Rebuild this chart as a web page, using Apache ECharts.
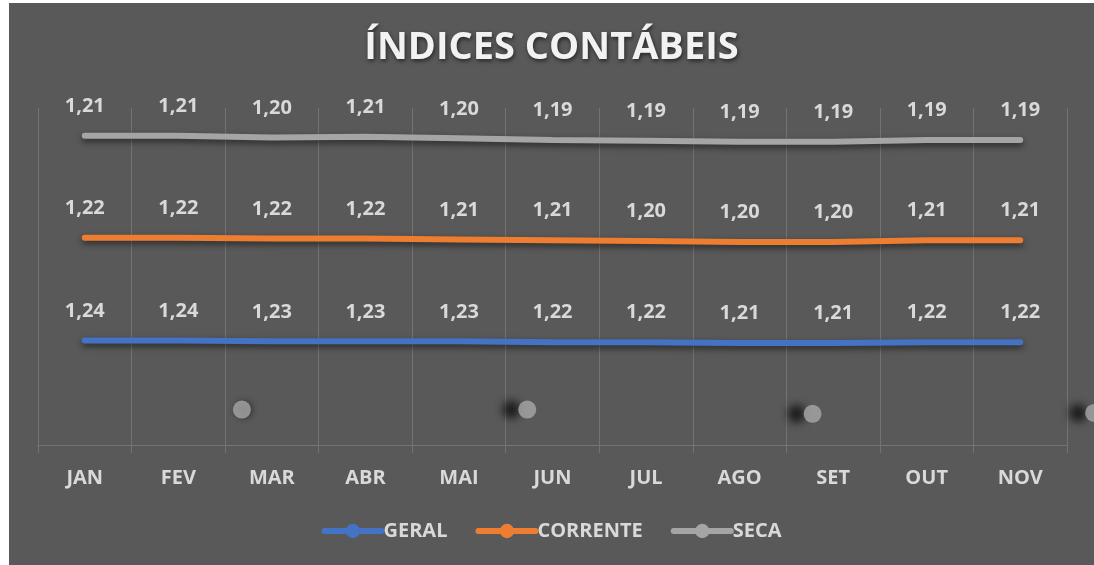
<!DOCTYPE html>
<html>
<head>
<meta charset="utf-8">
<script src="https://cdn.jsdelivr.net/npm/echarts@6/dist/echarts.min.js"></script>
<style>
    html, body { margin: 0; padding: 0; background: #ffffff; }
    #main { position: absolute; left: 9px; top: 3px; width: 1085px; height: 562px; }
</style>
</head>
<body>
<div id="main"></div>
<script>
// meses
var months = ['JAN', 'FEV', 'MAR', 'ABR', 'MAI', 'JUN', 'JUL', 'AGO', 'SET', 'OUT', 'NOV']

// indices (empilhados, como no excel)
var geral = [1.24, 1.24, 1.23, 1.23, 1.23, 1.22, 1.22, 1.21, 1.21, 1.22, 1.22]
var corrente = [1.22, 1.22, 1.22, 1.22, 1.21, 1.21, 1.20, 1.20, 1.20, 1.21, 1.21]
var seca = [1.21, 1.21, 1.20, 1.21, 1.20, 1.19, 1.19, 1.19, 1.19, 1.19, 1.19]

// pontos soltos perto do eixo [posicao x, valor]
var strayDots = [[2.18, 0.42], [5.23, 0.42], [8.28, 0.37], [11.29, 0.38]]

var labelColor = '#d9d9d9'
var gridColor = '#737373'
var font = '"Open Sans", "Noto Sans", sans-serif'

function fmt(p) {
    return p.value.toFixed(2).replace('.', ',')
}

function lineSeries(name, data, color) {
    return {
        name: name,
        type: 'line',
        stack: 'total',
        data: data,
        symbol: 'circle',
        symbolSize: 1, // so o rotulo aparece, marcador fica escondido na linha
        showSymbol: true,
        smooth: false,
        itemStyle: { color: color },
        lineStyle: {
            width: 6,
            color: color,
            cap: 'round',
            shadowColor: 'rgba(0,0,0,0.55)',
            shadowBlur: 6,
            shadowOffsetY: 3
        },
        label: {
            show: true,
            position: 'top',
            distance: 19,
            color: labelColor,
            fontFamily: font,
            fontWeight: 'bold',
            fontSize: 20,
            formatter: fmt
        }
    }
}

var myChart = echarts.init(document.getElementById('main'))
var option

option = {
    backgroundColor: '#595959',
    animation: false,
    title: {
        text: 'ÍNDICES CONTÁBEIS',
        left: 'center',
        top: 21,
        textStyle: {
            color: '#f2f2f2',
            fontFamily: font,
            fontWeight: 'bold',
            fontSize: 38,
            textShadowColor: 'rgba(0,0,0,0.6)',
            textShadowBlur: 4,
            textShadowOffsetX: 1,
            textShadowOffsetY: 2
        }
    },
    legend: {
        data: ['GERAL', 'CORRENTE', 'SECA'],
        bottom: 19,
        left: 'center',
        itemWidth: 57,
        itemHeight: 18,
        itemGap: 28,
        lineStyle: { width: 6 },
        textStyle: {
            color: labelColor,
            fontFamily: font,
            fontWeight: 'bold',
            fontSize: 20,
            padding: [0, 0, 0, -3]
        }
    },
    grid: {
        left: 29,
        right: 27,
        top: 105,
        bottom: 120
    },
    xAxis: [
        {
            type: 'category',
            data: months,
            boundaryGap: true,
            axisLine: { lineStyle: { color: gridColor, width: 1 } },
            axisTick: { show: true, length: 8, lineStyle: { color: gridColor } },
            splitLine: { show: true, lineStyle: { color: gridColor, width: 1 } },
            axisLabel: {
                color: labelColor,
                fontFamily: font,
                fontWeight: 'bold',
                fontSize: 20,
                margin: 23
            }
        },
        {
            type: 'value',
            min: 0,
            max: 11,
            show: false
        }
    ],
    yAxis: {
        type: 'value',
        min: 0,
        max: 4,
        show: false,
        splitLine: { show: false }
    },
    series: [
        lineSeries('GERAL', geral, '#4472c4'),
        lineSeries('CORRENTE', corrente, '#ed7d31'),
        lineSeries('SECA', seca, '#a5a5a5'),
        {
            name: 'pontos',
            type: 'scatter',
            xAxisIndex: 1,
            yAxisIndex: 0,
            data: strayDots.map(function (d, i) {
                // o primeiro ponto quase nao tem sombra deslocada
                return i === 0
                    ? { value: d, itemStyle: { shadowOffsetX: 2, shadowBlur: 6, shadowColor: 'rgba(0,0,0,0.5)' } }
                    : d
            }),
            symbolSize: 18,
            clip: false,
            itemStyle: {
                color: '#a8a8a8',
                shadowColor: 'rgba(0,0,0,0.85)',
                shadowBlur: 8,
                shadowOffsetX: -16
            }
        }
    ]
}

option && myChart.setOption(option, true)
</script>
</body>
</html>
